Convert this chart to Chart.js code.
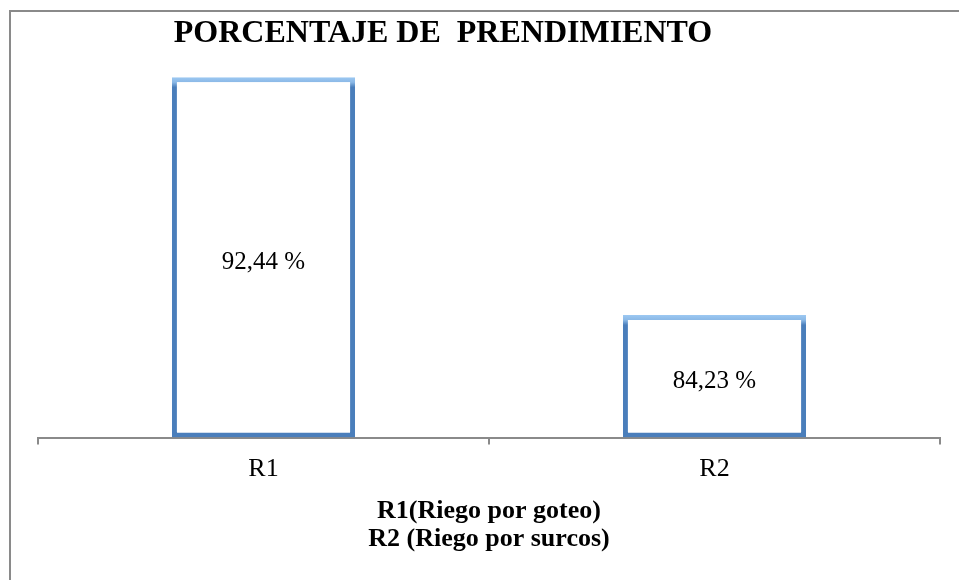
<!DOCTYPE html>
<html>
<head>
  <title>Porcentaje de prendimiento</title>
  <script src="https://cdn.jsdelivr.net/npm/chart.js"></script>
  <style>
    body { margin: 0; background: #fff; }
    #wrap { width: 959px; height: 580px; }
  </style>
</head>
<body>
  <div id="wrap"><canvas id="chart"></canvas></div>

  <script>
    // data
    const categories = ['R1', 'R2'];
    const prendimiento = [92.44, 84.23];
    const chartTitle = 'PORCENTAJE DE  PRENDIMIENTO';
    const legendLines = ['R1(Riego por goteo)', 'R2 (Riego por surcos)'];
    const yMin = 80;
    const yMax = 93.9;

    const serif = "'Liberation Serif', 'Times New Roman', serif";

    // gray frame + heading (heading sits left of centre in the original)
    const frame = {
      id: 'frame',
      beforeDraw(chart) {
        const ctx = chart.ctx;
        ctx.save();
        ctx.strokeStyle = '#8a8a8a';
        ctx.lineWidth = 2;
        ctx.beginPath();
        ctx.moveTo(10, 600);
        ctx.lineTo(10, 11);
        ctx.lineTo(980, 11);
        ctx.stroke();
        ctx.restore();
      },
      afterDraw(chart) {
        const ctx = chart.ctx;
        ctx.save();
        ctx.fillStyle = '#000';
        ctx.font = 'bold 32px ' + serif;
        ctx.textAlign = 'center';
        ctx.textBaseline = 'middle';
        ctx.fillText(chartTitle, 443, 34);
        ctx.restore();
      }
    };

    // value labels in the middle of each bar
    const barLabels = {
      id: 'barLabels',
      afterDatasetsDraw(chart) {
        const ctx = chart.ctx;
        const meta = chart.getDatasetMeta(0);
        ctx.save();
        ctx.fillStyle = '#000';
        ctx.font = '25px ' + serif;
        ctx.textAlign = 'center';
        ctx.textBaseline = 'middle';
        meta.data.forEach((bar, i) => {
          const txt = prendimiento[i].toFixed(2).replace('.', ',') + ' %';
          ctx.fillText(txt, bar.x, (bar.y + bar.base) / 2 + 5);
        });
        ctx.restore();
      }
    };

    new Chart(document.getElementById('chart'), {
      type: 'bar',
      data: {
        labels: categories,
        datasets: [{
          // bars start at the axis minimum, not at zero
          data: prendimiento.map(v => [yMin, v]),
          backgroundColor: '#ffffff',
          borderWidth: 5,
          borderSkipped: false,
          borderColor: (c) => {
            const chart = c.chart;
            if (!chart.chartArea || c.dataIndex === undefined) return '#4f81bd';
            const yTop = chart.scales.y.getPixelForValue(prendimiento[c.dataIndex]);
            const g = chart.ctx.createLinearGradient(0, yTop, 0, yTop + 10);
            g.addColorStop(0, '#9cc8f2');
            g.addColorStop(0.5, '#8ab8e6');
            g.addColorStop(1, '#4a7ebb');
            return g;
          },
          barPercentage: 0.406,
          categoryPercentage: 1
        }]
      },
      options: {
        responsive: true,
        maintainAspectRatio: false,
        animation: false,
        layout: { padding: { top: 35, left: 38, right: 19, bottom: 0 } },
        plugins: {
          legend: { display: false },
          tooltip: { enabled: false },
          title: {
            display: true,
            position: 'bottom',
            text: legendLines,
            color: '#000',
            font: { family: serif, size: 26, weight: 'bold', lineHeight: 1.1 },
            padding: { top: 3, bottom: 26 }
          }
        },
        scales: {
          x: {
            grid: {
              drawOnChartArea: false,
              tickLength: 7,
              color: '#8a8a8a',
              lineWidth: 2
            },
            border: { color: '#8a8a8a', width: 2 },
            ticks: {
              color: '#000',
              padding: 9,
              font: { family: serif, size: 26 }
            }
          },
          y: {
            display: false,
            min: yMin,
            max: yMax
          }
        }
      },
      plugins: [frame, barLabels]
    });
  </script>
</body>
</html>
